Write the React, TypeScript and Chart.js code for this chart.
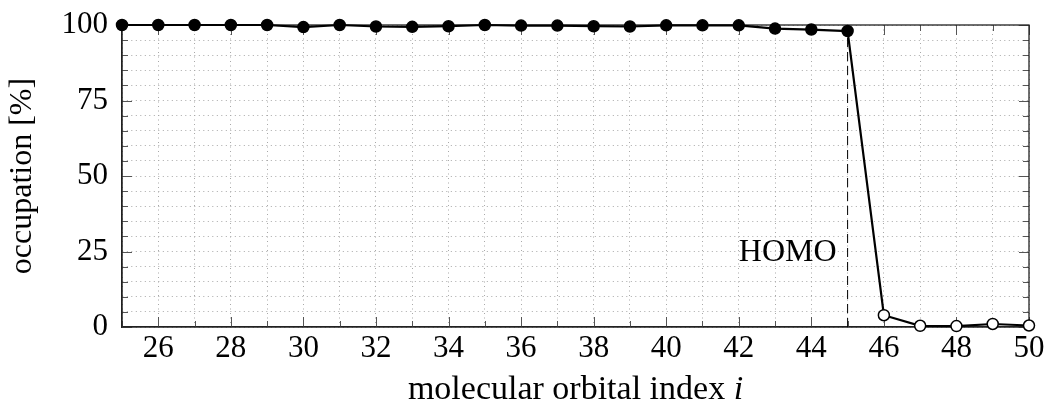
import React, { useEffect, useRef } from 'react';
import { Chart, registerables } from 'chart.js';

Chart.register(...registerables);

// ---- data ----
const orbitalIndex = [25, 26, 27, 28, 29, 30, 31, 32, 33, 34, 35, 36, 37, 38, 39, 40, 41, 42, 43, 44, 45, 46, 47, 48, 49, 50];
const occupation = [100, 100, 100, 100, 100, 99.3, 100, 99.5, 99.4, 99.6, 100, 99.8, 99.8, 99.6, 99.5, 99.9, 99.9, 99.9, 98.8, 98.5, 98.0, 3.9, 0.4, 0.3, 1.0, 0.5];
const homoIndex = 45;
const homoLabel = 'HOMO';
const xTitle = 'molecular orbital index ';
const xTitleItalic = 'i';
const yTitle = 'occupation [%]';
const xMin = 25;
const xMax = 50;
const yMin = 0;
const yMax = 100;
const yMajorStep = 25;
const yMinorStep = 5;
const xMajorStep = 2;
const xMinorStep = 1;

const FONT = "'Liberation Serif', 'DejaVu Serif', serif";

const framePlugin = {
  id: 'framePlugin',
  beforeDatasetsDraw(chart: any) {
    const { ctx, chartArea: a, scales } = chart;
    const xs = scales.x;
    const ys = scales.y;
    ctx.save();
    // inner ticks
    ctx.strokeStyle = '#555';
    ctx.lineWidth = 1;
    ctx.beginPath();
    for (let v = xMin; v <= xMax; v += xMinorStep) {
      const px = Math.round(xs.getPixelForValue(v)) + 0.5;
      const len = v % xMajorStep === 0 ? 10 : 6;
      ctx.moveTo(px, a.bottom);
      ctx.lineTo(px, a.bottom - len);
      ctx.moveTo(px, a.top);
      ctx.lineTo(px, a.top + len);
    }
    for (let v = yMin; v <= yMax; v += yMinorStep) {
      const py = Math.round(ys.getPixelForValue(v)) + 0.5;
      const len = v % yMajorStep === 0 ? 10 : 6;
      ctx.moveTo(a.left, py);
      ctx.lineTo(a.left + len, py);
      ctx.moveTo(a.right, py);
      ctx.lineTo(a.right - len, py);
    }
    ctx.stroke();
    // frame
    ctx.strokeStyle = '#222';
    ctx.lineWidth = 1.3;
    ctx.strokeRect(a.left, a.top, a.right - a.left, a.bottom - a.top);
    // HOMO dashed line
    const hi = orbitalIndex.indexOf(homoIndex);
    const hx = xs.getPixelForValue(homoIndex);
    ctx.strokeStyle = '#000';
    ctx.lineWidth = 1;
    ctx.setLineDash([9, 5]);
    ctx.beginPath();
    ctx.moveTo(hx, ys.getPixelForValue(yMin));
    ctx.lineTo(hx, ys.getPixelForValue(occupation[hi]));
    ctx.stroke();
    ctx.setLineDash([]);
    // HOMO label
    ctx.fillStyle = '#000';
    ctx.font = `32px ${FONT}`;
    ctx.textAlign = 'right';
    ctx.textBaseline = 'middle';
    ctx.fillText(homoLabel, hx - 11, ys.getPixelForValue(25) + 1.5);
    ctx.restore();
  },
  afterDraw(chart: any) {
    // x title with italic i
    const { ctx, chartArea: a } = chart;
    ctx.save();
    ctx.fillStyle = '#000';
    ctx.textBaseline = 'alphabetic';
    ctx.font = `34px ${FONT}`;
    const w1 = ctx.measureText(xTitle).width;
    ctx.font = `italic 34px ${FONT}`;
    const w2 = ctx.measureText(xTitleItalic).width;
    const cx = (a.left + a.right) / 2;
    const x0 = cx - (w1 + w2) / 2;
    const y = 399;
    ctx.textAlign = 'left';
    ctx.font = `34px ${FONT}`;
    ctx.fillText(xTitle, x0, y);
    ctx.font = `italic 34px ${FONT}`;
    ctx.fillText(xTitleItalic, x0 + w1, y);
    ctx.restore();
  },
};

export default function App() {
  const ref = useRef<HTMLCanvasElement | null>(null);

  useEffect(() => {
    if (!ref.current) return;
    const data = orbitalIndex.map((x, i) => ({ x, y: occupation[i] }));
    const chart = new Chart(ref.current, {
      type: 'line',
      data: {
        datasets: [
          {
            data,
            borderColor: '#000',
            borderWidth: 2.2,
            pointRadius: 5.5,
            pointBorderWidth: 1.5,
            pointBorderColor: '#000',
            pointBackgroundColor: (c: any) => (c.raw && c.raw.x > homoIndex ? '#fff' : '#000'),
            tension: 0,
            clip: false,
          } as any,
        ],
      },
      options: {
        responsive: false,
        animation: false,
        layout: { padding: { left: 0, top: 25, right: 18, bottom: 0 } },
        plugins: { legend: { display: false }, tooltip: { enabled: false }, title: { display: false } },
        scales: {
          x: {
            type: 'linear',
            min: xMin,
            max: xMax,
            afterFit: (s: any) => {
              s.height = 81;
              s.paddingLeft = 0;
              s.paddingRight = 0;
            },
            ticks: {
              stepSize: xMinorStep,
              autoSkip: false,
              maxRotation: 0,
              padding: 3,
              color: '#000',
              font: { family: FONT, size: 31 },
              callback: (v: any) => (Number(v) % xMajorStep === 0 ? String(v) : ''),
            },
            grid: { color: '#a8a8a8', lineWidth: 1, drawTicks: false },
            border: { display: true, color: '#222', width: 1.3, dash: [1, 3.5] },
          },
          y: {
            type: 'linear',
            min: yMin,
            max: yMax,
            afterFit: (s: any) => {
              s.width = 122;
              s.paddingTop = 0;
              s.paddingBottom = 0;
            },
            ticks: {
              stepSize: yMinorStep,
              autoSkip: false,
              padding: 14,
              color: '#000',
              font: { family: FONT, size: 31 },
              callback: (v: any) => (Number(v) % yMajorStep === 0 ? String(v) : ''),
            },
            grid: { color: '#a8a8a8', lineWidth: 1, drawTicks: false },
            border: { display: true, color: '#222', width: 1.3, dash: [1, 3.5] },
            title: {
              display: true,
              text: yTitle,
              color: '#000',
              font: { family: FONT, size: 32 },
              padding: { top: 3, bottom: 0 },
            },
          },
        },
      },
      plugins: [framePlugin],
    } as any);
    return () => chart.destroy();
  }, []);

  return (
    <div style={{ position: 'absolute', left: 0, top: 0, width: 1047, height: 408, background: '#fff' }}>
      <canvas ref={ref} width={1047} height={408} style={{ display: 'block' }} />
    </div>
  );
}
